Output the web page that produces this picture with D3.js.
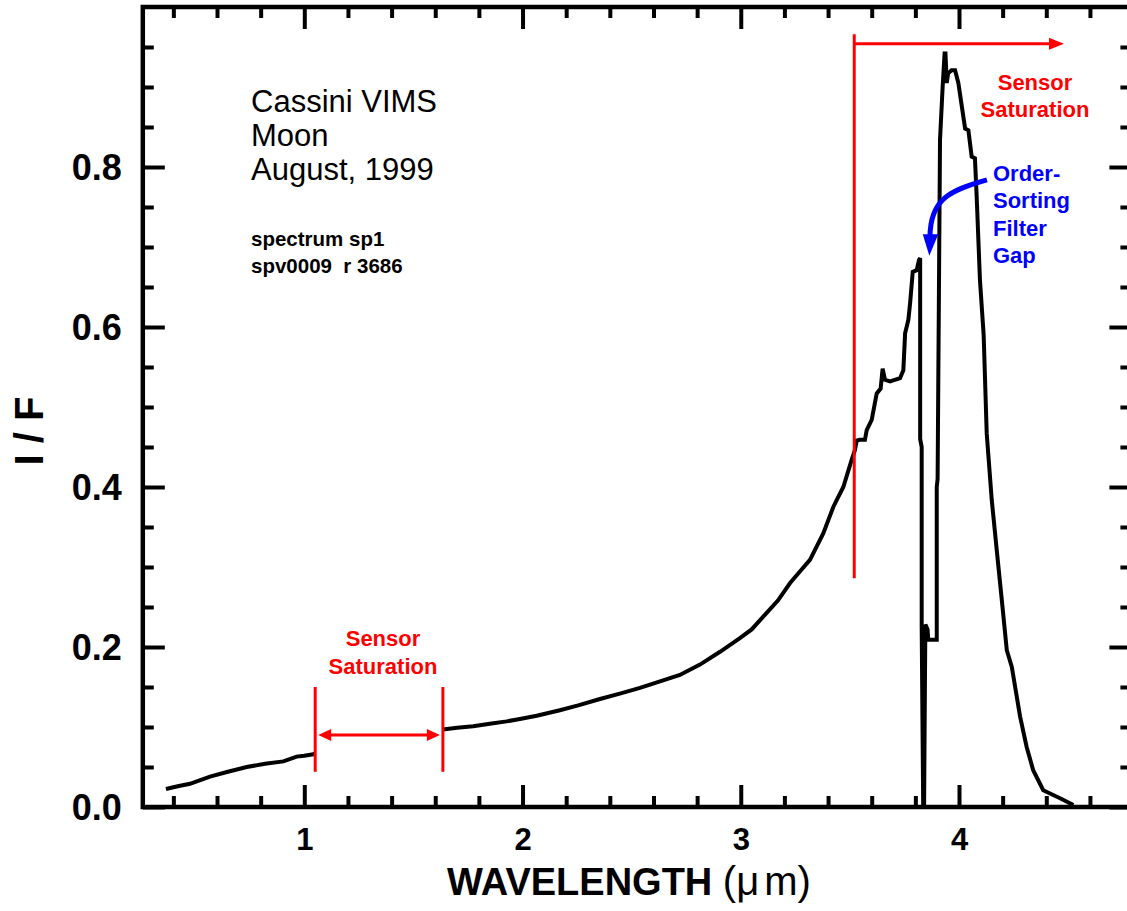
<!DOCTYPE html>
<html>
<head>
<meta charset="utf-8">
<script src="https://cdn.jsdelivr.net/npm/d3@7"></script>
<style>
  html, body { margin: 0; padding: 0; background: #fff; }
  svg { display: block; }
  text { font-family: "Liberation Sans", Arial, Helvetica, sans-serif; }
</style>
</head>
<body>
<svg id="chart" width="1127" height="911"></svg>
<script>
// ---------------- data ----------------
// Segment before the short-wavelength saturation gap
const wavelength1 = [0.366, 0.42, 0.476, 0.568, 0.65, 0.736, 0.82, 0.904, 0.965, 1.00, 1.041, 1.05];
const iof1        = [0.0225, 0.026, 0.029, 0.038, 0.044, 0.050, 0.054, 0.057, 0.063, 0.064, 0.066, 0.067];

// Segment after the gap
const wavelength2 = [1.635, 1.70, 1.774, 1.85, 1.927, 1.988, 2.065, 2.171, 2.255, 2.355, 2.45, 2.538, 2.63,
  2.721, 2.813, 2.905, 2.996, 3.05, 3.103, 3.17, 3.226, 3.27, 3.317, 3.378, 3.424, 3.44, 3.47, 3.508, 3.523,
  3.531, 3.545, 3.569, 3.577, 3.60, 3.623, 3.641, 3.65, 3.661, 3.684, 3.73, 3.745, 3.753, 3.768, 3.776, 3.788,
  3.806, 3.817, 3.822, 3.822, 3.829, 3.829, 3.836, 3.840, 3.844, 3.846, 3.856, 3.859, 3.898, 3.898, 3.902,
  3.91, 3.913, 3.925, 3.934, 3.938, 3.944, 3.95, 3.966, 3.982, 3.997, 4.028, 4.043, 4.058, 4.073, 4.081,
  4.096, 4.113, 4.127, 4.15, 4.173, 4.196, 4.219, 4.242, 4.28, 4.31, 4.34, 4.386, 4.463, 4.524];
const iof2 = [0.097, 0.099, 0.101, 0.104, 0.107, 0.110, 0.114, 0.121, 0.127, 0.135, 0.142, 0.149, 0.157,
  0.165, 0.178, 0.194, 0.211, 0.222, 0.238, 0.258, 0.280, 0.294, 0.309, 0.342, 0.375, 0.384, 0.400, 0.434, 0.446,
  0.458, 0.459, 0.459, 0.471, 0.484, 0.517, 0.523, 0.548, 0.534, 0.532, 0.536, 0.546, 0.592, 0.609, 0.630, 0.669,
  0.671, 0.684, 0.686, 0.460, 0.450, 0.225, 0.0, 0.0, 0.160, 0.228, 0.222, 0.209, 0.209, 0.400, 0.410,
  0.720, 0.834, 0.900, 0.942, 0.942, 0.905, 0.917, 0.921, 0.921, 0.905, 0.848, 0.846, 0.813, 0.811, 0.763,
  0.659, 0.590, 0.467, 0.384, 0.321, 0.259, 0.196, 0.175, 0.113, 0.075, 0.046, 0.021, 0.011, 0.0025];

// ticks
const xMajorTicks = [1, 2, 3, 4];
const xMinorTicks = [0.4, 0.6, 0.8, 1.2, 1.4, 1.6, 1.8, 2.2, 2.4, 2.6, 2.8, 3.2, 3.4, 3.6, 3.8, 4.2, 4.4, 4.6];
const xTickLabels = ["1", "2", "3", "4"];
const yMajorTicks = [0.0, 0.2, 0.4, 0.6, 0.8];
const yMinorTicks = [0.05, 0.1, 0.15, 0.25, 0.3, 0.35, 0.45, 0.5, 0.55, 0.65, 0.7, 0.75, 0.85, 0.9, 0.95];
const yTickLabels = ["0.0", "0.2", "0.4", "0.6", "0.8"];

// annotation extents (data units)
const lowSaturation = [1.05, 1.635];
const highSaturationStart = 3.52;
const highSaturationArrowEnd = 4.481;

// ---------------- layout ----------------
const svg = d3.select("#chart");
svg.append("rect").attr("width", 1127).attr("height", 911).attr("fill", "#fff");

const x = d3.scaleLinear().domain([1, 4]).range([304.3, 959]);
const xDom = [0.26, 4.79];
const y = d3.scaleLinear().domain([0, 1]).range([807, 7]);

const pLeft = x(xDom[0]), pRight = x(xDom[1]), pTop = y(1), pBottom = y(0);

// ---------------- axes / ticks ----------------
function styleAxis(g) {
  g.select(".domain").remove();
  g.selectAll(".tick line").attr("stroke", "#000").attr("stroke-width", 4);
}
const MAJ = 22, MIN = 11;

// bottom
svg.append("g").attr("transform", `translate(0,${pBottom})`)
  .call(d3.axisBottom(x).tickValues(xMajorTicks).tickSize(-MAJ).tickPadding(21)
    .tickFormat((d, i) => xTickLabels[i]))
  .call(styleAxis)
  .call(g => g.selectAll("text").attr("font-size", 31).attr("font-weight", "bold").attr("fill", "#000")
    .attr("font-family", '"Liberation Sans", Arial, sans-serif'));
svg.append("g").attr("transform", `translate(0,${pBottom})`)
  .call(d3.axisBottom(x).tickValues(xMinorTicks).tickSize(-MIN).tickFormat(""))
  .call(styleAxis);
// top
svg.append("g").attr("transform", `translate(0,${pTop})`)
  .call(d3.axisTop(x).tickValues(xMajorTicks).tickSize(-MAJ).tickFormat(""))
  .call(styleAxis);
svg.append("g").attr("transform", `translate(0,${pTop})`)
  .call(d3.axisTop(x).tickValues(xMinorTicks).tickSize(-MIN).tickFormat(""))
  .call(styleAxis);
// left
svg.append("g").attr("transform", `translate(${pLeft},0)`)
  .call(d3.axisLeft(y).tickValues(yMajorTicks).tickSize(-MAJ).tickPadding(21)
    .tickFormat((d, i) => yTickLabels[i]))
  .call(styleAxis)
  .call(g => g.selectAll("text").attr("font-size", 36).attr("font-weight", "bold").attr("fill", "#000")
    .attr("font-family", '"Liberation Sans", Arial, sans-serif').attr("dy", "0.36em"));
svg.append("g").attr("transform", `translate(${pLeft},0)`)
  .call(d3.axisLeft(y).tickValues(yMinorTicks).tickSize(-MIN).tickFormat(""))
  .call(styleAxis);
// right
svg.append("g").attr("transform", `translate(${pRight},0)`)
  .call(d3.axisRight(y).tickValues(yMajorTicks).tickSize(-MAJ).tickFormat(""))
  .call(styleAxis);
svg.append("g").attr("transform", `translate(${pRight},0)`)
  .call(d3.axisRight(y).tickValues(yMinorTicks).tickSize(-MIN).tickFormat(""))
  .call(styleAxis);

// frame
svg.append("rect").attr("x", pLeft).attr("y", pTop).attr("width", pRight - pLeft).attr("height", pBottom - pTop)
  .attr("fill", "none").attr("stroke", "#000").attr("stroke-width", 4.5);

// ---------------- spectrum ----------------
const line = d3.line().x(d => x(d[0])).y(d => y(d[1]));
const seg1 = wavelength1.map((w, i) => [w, iof1[i]]);
const seg2 = wavelength2.map((w, i) => [w, iof2[i]]);
[seg1, seg2].forEach(s => {
  svg.append("path").datum(s).attr("d", line).attr("fill", "none")
    .attr("stroke", "#000").attr("stroke-width", 4).attr("stroke-linejoin", "miter").attr("stroke-miterlimit", 2);
});

// ---------------- annotations ----------------
const RED = "#ff0000", BLUE = "#0000ff";

// low-wavelength saturation bracket
[lowSaturation[0], lowSaturation[1]].forEach(w => {
  svg.append("line").attr("x1", x(w)).attr("x2", x(w)).attr("y1", y(0.150)).attr("y2", y(0.044))
    .attr("stroke", RED).attr("stroke-width", 3);
});
{
  const ya = y(0.090), xa = x(lowSaturation[0]) + 3, xb = x(lowSaturation[1]) - 3, L = 13, H = 6;
  svg.append("line").attr("x1", xa + L - 2).attr("x2", xb - L + 2).attr("y1", ya).attr("y2", ya)
    .attr("stroke", RED).attr("stroke-width", 3);
  svg.append("path").attr("d", `M${xa},${ya} L${xa + L},${ya - H} L${xa + L},${ya + H} Z`).attr("fill", RED);
  svg.append("path").attr("d", `M${xb},${ya} L${xb - L},${ya - H} L${xb - L},${ya + H} Z`).attr("fill", RED);
}
// high-wavelength saturation marker
svg.append("line").attr("x1", x(highSaturationStart)).attr("x2", x(highSaturationStart))
  .attr("y1", y(0.966)).attr("y2", y(0.286)).attr("stroke", RED).attr("stroke-width", 3);
{
  const ya = y(0.954), xa = x(highSaturationStart), xb = x(highSaturationArrowEnd), L = 15, H = 6;
  svg.append("line").attr("x1", xa).attr("x2", xb - L + 2).attr("y1", ya).attr("y2", ya)
    .attr("stroke", RED).attr("stroke-width", 3);
  svg.append("path").attr("d", `M${xb},${ya} L${xb - L},${ya - H} L${xb - L},${ya + H} Z`).attr("fill", RED);
}

// labels
function label(txt, px, py, size, color, weight, anchor) {
  return svg.append("text").attr("x", px).attr("y", py).attr("font-size", size)
    .attr("font-weight", weight).attr("fill", color).attr("text-anchor", anchor)
    .attr("xml:space", "preserve").style("white-space", "pre").text(txt);
}
label("Sensor", 383, 646, 22, RED, "bold", "middle");
label("Saturation", 383, 674, 22, RED, "bold", "middle");
label("Sensor", 1035, 90, 22, RED, "bold", "middle");
label("Saturation", 1035, 117, 22, RED, "bold", "middle");

// blue order-sorting filter gap arrow
{
  const p0 = [x(4.128), y(0.784)], c1 = [x(3.958), y(0.771)], c2 = [x(3.867), y(0.76)], p1 = [x(3.867), y(0.712)];
  svg.append("path").attr("d", `M${p0} C${c1} ${c2} ${p1}`).attr("fill", "none")
    .attr("stroke", BLUE).attr("stroke-width", 5);
  svg.append("path")
    .attr("d", `M${x(3.834)},${y(0.716)} L${x(3.905)},${y(0.716)} L${x(3.864)},${y(0.689)} Z`)
    .attr("fill", BLUE);
}
label("Order-", 993, 181, 22, BLUE, "bold", "start");
label("Sorting", 993, 208, 22, BLUE, "bold", "start");
label("Filter", 993, 236, 22, BLUE, "bold", "start");
label("Gap", 993, 263, 22, BLUE, "bold", "start");

// info text
label("Cassini VIMS", 251, 112, 31, "#000", "normal", "start");
label("Moon", 251, 146, 31, "#000", "normal", "start");
label("August, 1999", 251, 180, 31, "#000", "normal", "start");
label("spectrum sp1", 251, 246, 20.5, "#000", "bold", "start");
label("spv0009  r 3686", 251, 273, 20.5, "#000", "bold", "start");

// axis titles
{
  const t = svg.append("text").attr("x", 447).attr("y", 895).attr("font-size", 38).attr("fill", "#000")
    .attr("xml:space", "preserve").style("white-space", "pre");
  t.append("tspan").attr("font-weight", "bold").text("WAVELENGTH ");
  t.append("tspan").attr("font-weight", "normal").attr("font-size", 40).text("(\u03bc");
  t.append("tspan").attr("font-weight", "normal").attr("font-size", 40).attr("dx", 5).text("m)");
}
svg.append("text").attr("transform", "translate(43,431) rotate(-90)").attr("text-anchor", "middle")
  .attr("font-size", 40).attr("font-weight", "bold").attr("fill", "#000")
  .attr("xml:space", "preserve").style("white-space", "pre").text("I / F");
</script>
</body>
</html>
